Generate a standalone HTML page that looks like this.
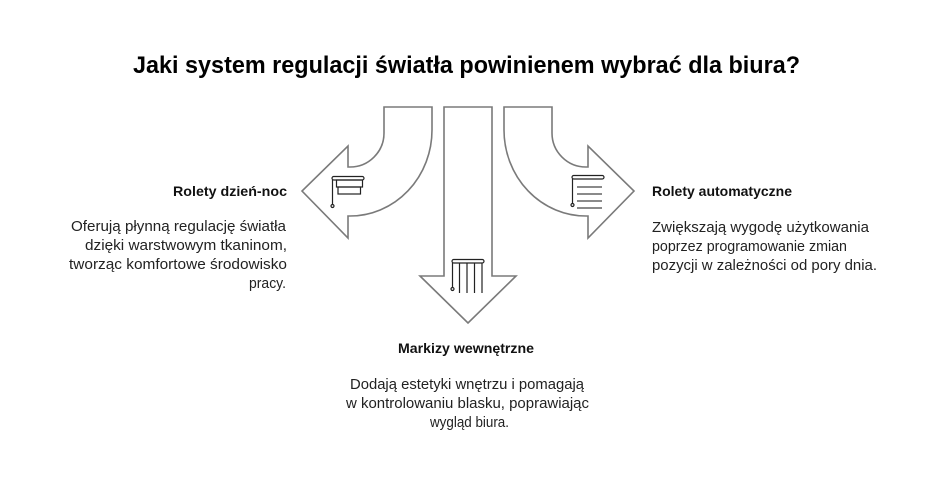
<!DOCTYPE html>
<html><head><meta charset="utf-8">
<style>
html,body{margin:0;padding:0;background:#fff;}
svg{display:block;}
text{font-family:"Liberation Sans","Noto Sans CJK SC",sans-serif;fill:#1a1a1a;}
.t{font-weight:bold;font-size:24px;fill:#000;}
.h{font-weight:bold;font-size:14px;fill:#111;}
.b{font-size:15px;fill:#222;}
</style></head>
<body>
<svg width="936" height="492" viewBox="0 0 936 492" xmlns="http://www.w3.org/2000/svg">
<text class="t" x="133" y="73" textLength="667" lengthAdjust="spacingAndGlyphs">Jaki system regulacji światła powinienem wybrać dla biura?</text>

<g fill="#fff" stroke="#7a7a7a" stroke-width="1.6" stroke-linejoin="miter">
<path d="M384 107 L432 107 L432 130 A82 86 0 0 1 350 216 L348 216 L348 238 L302 191 L348 146 L348 167 L350 167 A34 34 0 0 0 384 133 Z"/>
<path d="M552 107 L504 107 L504 130 A82 86 0 0 0 586 216 L588 216 L588 238 L634 191 L588 146 L588 167 L586 167 A34 34 0 0 1 552 133 Z"/>
<path d="M444 107 L492 107 L492 276 L516 276 L468 323 L420 276 L444 276 Z"/>
</g>

<g fill="none" stroke="#222" stroke-width="1.2">
<!-- left icon -->
<rect x="332" y="176.5" width="32" height="3.5" rx="1.7"/>
<rect x="336.5" y="180" width="26" height="7"/>
<rect x="338" y="187" width="22.5" height="7"/>
<line x1="332.5" y1="180" x2="332.5" y2="205"/>
<circle cx="332.5" cy="206" r="1.5"/>
<!-- right icon -->
<rect x="572" y="175.5" width="32" height="3.5" rx="1.7"/>
<line x1="572.5" y1="179" x2="572.5" y2="204"/>
<circle cx="572.5" cy="205" r="1.5"/>
<g stroke="#444">
<line x1="577" y1="187" x2="602" y2="187"/>
<line x1="577" y1="194" x2="602" y2="194"/>
<line x1="577" y1="201" x2="602" y2="201"/>
<line x1="577" y1="208" x2="602" y2="208"/>
</g>
<!-- center icon -->
<rect x="452" y="259.5" width="32" height="3.5" rx="1.7"/>
<line x1="452.5" y1="263" x2="452.5" y2="288"/>
<circle cx="452.5" cy="289" r="1.5"/>
<line x1="459.5" y1="263" x2="459.5" y2="293"/>
<line x1="467" y1="263" x2="467" y2="293"/>
<line x1="474.5" y1="263" x2="474.5" y2="293"/>
<line x1="482" y1="263" x2="482" y2="293"/>
</g>

<!-- left text -->
<text class="h" x="173" y="196" textLength="114" lengthAdjust="spacingAndGlyphs">Rolety dzień-noc</text>
<text class="b" x="71" y="231" textLength="215" lengthAdjust="spacingAndGlyphs">Oferują płynną regulację światła</text>
<text class="b" x="85" y="250" textLength="202" lengthAdjust="spacingAndGlyphs">dzięki warstwowym tkaninom,</text>
<text class="b" x="69" y="269" textLength="218" lengthAdjust="spacingAndGlyphs">tworząc komfortowe środowisko</text>
<text class="b" x="249" y="288" textLength="37" lengthAdjust="spacingAndGlyphs">pracy.</text>

<!-- right text -->
<text class="h" x="652" y="196" textLength="140" lengthAdjust="spacingAndGlyphs">Rolety automatyczne</text>
<text class="b" x="652" y="232" textLength="217" lengthAdjust="spacingAndGlyphs">Zwiększają wygodę użytkowania</text>
<text class="b" x="652" y="251" textLength="195" lengthAdjust="spacingAndGlyphs">poprzez programowanie zmian</text>
<text class="b" x="652" y="270" textLength="225" lengthAdjust="spacingAndGlyphs">pozycji w zależności od pory dnia.</text>

<!-- center text -->
<text class="h" x="398" y="353" textLength="136" lengthAdjust="spacingAndGlyphs">Markizy wewnętrzne</text>
<text class="b" x="350" y="389" textLength="234" lengthAdjust="spacingAndGlyphs">Dodają estetyki wnętrzu i pomagają</text>
<text class="b" x="346" y="408" textLength="243" lengthAdjust="spacingAndGlyphs">w kontrolowaniu blasku, poprawiając</text>
<text class="b" x="430" y="427" textLength="79" lengthAdjust="spacingAndGlyphs">wygląd biura.</text>
</svg>
</body></html>
